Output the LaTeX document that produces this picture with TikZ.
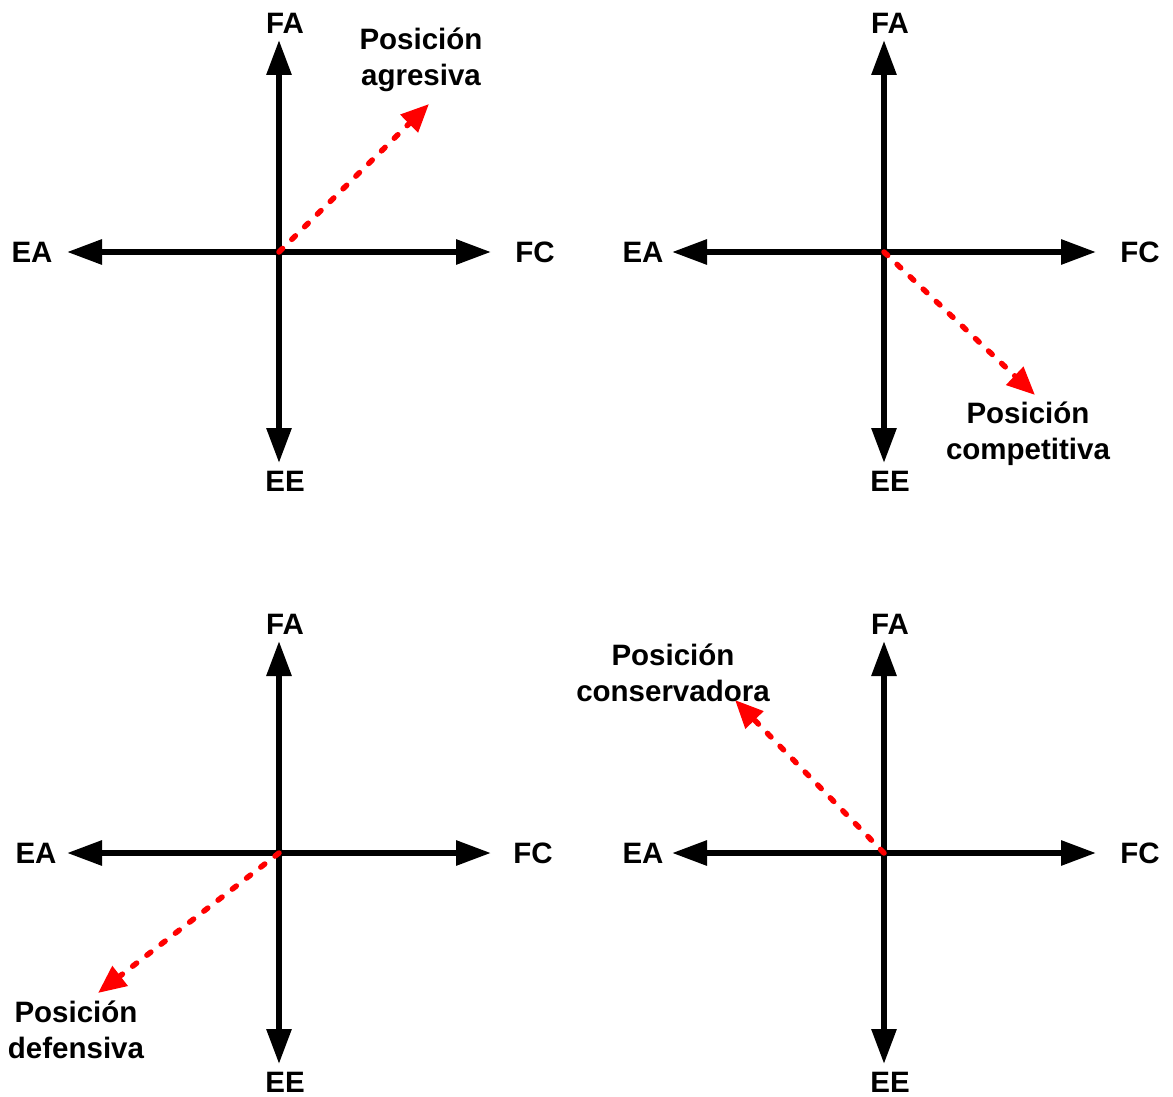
\documentclass[tikz,border=0pt]{standalone}
\usepackage{fontspec}
\setmainfont{Liberation Sans}
\usetikzlibrary{arrows.meta,calc}
\newcommand{\quadaxes}[3]{%
  \coordinate (#1c) at (#2,#3);
  \coordinate (#1n) at ($(#1c)+(0,-212)$);
  \coordinate (#1s) at ($(#1c)+(0,211)$);
  \coordinate (#1w) at ($(#1c)+(-212,0)$);
  \coordinate (#1e) at ($(#1c)+(212,0)$);
  \draw[axis] (#1c) -- (#1n);
  \draw[axis] (#1c) -- (#1s);
  \draw[axis] (#1c) -- (#1w);
  \draw[axis] (#1c) -- (#1e);
  \fill (#1c) circle (4.5);
  \node[lbl] (#1FA) at ($(#1c)+(6,-229)$) {FA};
  \node[lbl] (#1EE) at ($(#1c)+(6,229)$) {EE};
}
\begin{document}
\begin{tikzpicture}[x=1pt,y=-1pt,
  axis/.style={line width=6pt,-{Triangle[length=35pt,width=24pt]}},
  posarrow/.style={red,line width=5.5pt,dash pattern=on 5pt off 13pt,line cap=round,
    -{Triangle[length=28pt,width=24pt]}},
  lbl/.style={font=\fontsize{29.5}{36}\selectfont\bfseries,inner sep=0pt,align=center}]
\useasboundingbox (0,0) rectangle (1173,1097);
% quadrant 1
\quadaxes{a}{279}{252}
\node[lbl] (aEA) at (32,252) {EA};
\node[lbl] (aFC) at (535,252) {FC};
\coordinate (ap) at (429,104);
\draw[posarrow] (ac) -- (ap);
\node[lbl] (aL) at (421,60) {Posición\\agresiva};
% quadrant 2
\quadaxes{b}{884}{252}
\node[lbl] (bEA) at (643,252) {EA};
\node[lbl] (bFC) at (1140,252) {FC};
\coordinate (bp) at (1035,395);
\draw[posarrow] (bc) -- (bp);
\node[lbl] (bL) at (1028,434) {Posición\\competitiva};
% quadrant 3
\quadaxes{c}{279}{853}
\node[lbl] (cEA) at (36,853) {EA};
\node[lbl] (cFC) at (533,853) {FC};
\coordinate (cp) at (98,993);
\draw[posarrow] (cc) -- (cp);
\node[lbl] (cL) at (76,1030) {Posición\\defensiva};
% quadrant 4
\quadaxes{d}{884}{853}
\node[lbl] (dEA) at (643,853) {EA};
\node[lbl] (dFC) at (1140,853) {FC};
\coordinate (dp) at (735,700);
\draw[posarrow] (dc) -- (dp);
\node[lbl] (dL) at (673,673) {Posición\\conservadora};
\end{tikzpicture}
\end{document}
